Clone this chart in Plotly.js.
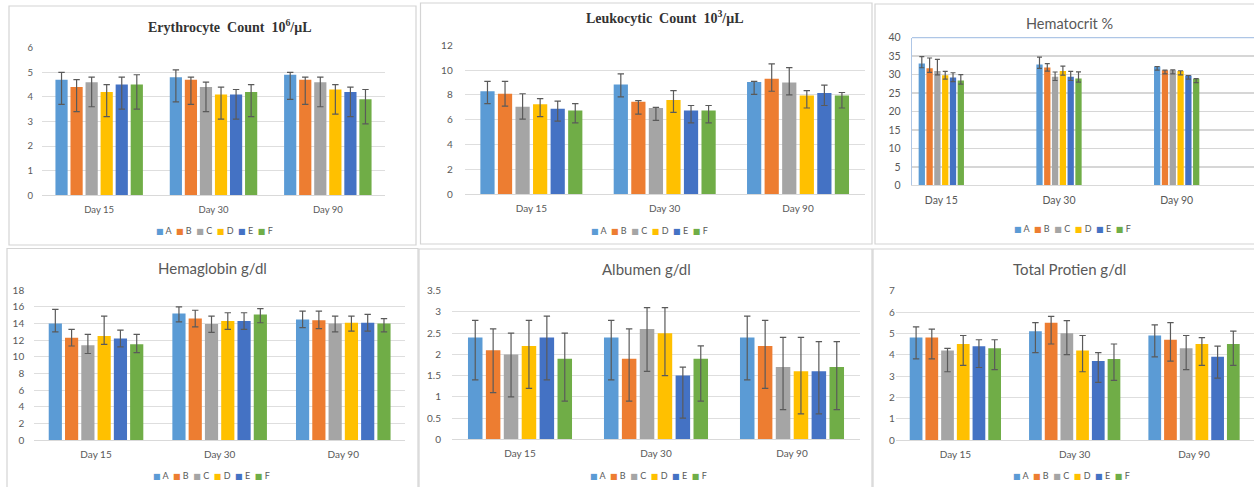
<!DOCTYPE html>
<html><head><meta charset="utf-8">
<script src="https://cdn.plot.ly/plotly-3.0.1.min.js"></script>
<style>html,body{margin:0;padding:0;background:#fff;overflow:hidden}#chart{width:1254px;height:487px}</style>
</head><body><div id="chart"></div>
<script>
// ---------- data ----------
const days = ['Day 15', 'Day 30', 'Day 90'];
const groups = ['A', 'B', 'C', 'D', 'E', 'F'];
const colors = ['#5B9BD5', '#ED7D31', '#A5A5A5', '#FFC000', '#4472C4', '#70AD47'];

// rows = groups A..F, columns = Day 15, Day 30, Day 90
const eryVal   = [[4.7,4.8,4.9],[4.4,4.7,4.7],[4.6,4.4,4.6],[4.2,4.1,4.3],[4.5,4.1,4.2],[4.5,4.2,3.9]];
const eryPlus  = [[0.3,0.3,0.1],[0.3,0.1,0.1],[0.2,0.2,0.2],[0.3,0.3,0.2],[0.3,0.2,0.2],[0.4,0.3,0.4]];
const eryMinus = [[1,1,1],[1,1,1],[1,1,1],[1,1,1],[1,1,1],[1,1,1]];

const leuVal   = [[8.3,8.85,9.05],[8.1,7.45,9.3],[7.05,6.95,9.0],[7.25,7.6,7.95],[6.9,6.75,8.15],[6.75,6.75,7.95]];
const leuPlus  = [[0.8,0.85,0.05],[1.0,0.1,1.2],[1.05,0.05,1.2],[0.45,0.75,0.4],[0.6,0.4,0.65],[0.55,0.4,0.25]];
const leuMinus = [[1,1,1],[1,1,1],[1,1,1],[1,1,1],[1,1,1],[1,1,1]];

const hctVal   = [[33.0,32.75,32.2],[31.7,31.95,31.2],[31.0,29.4,31.2],[29.85,30.95,30.95],[29.2,29.4,29.75],[28.4,28.95,28.85]];
const hctPlus  = [[1.85,2.0,0],[2.8,1.05,0],[3.1,1.3,0.1],[1.05,1.35,0.1],[1.3,1.45,0],[1.6,1.8,0.05]];
const hctMinus = [[1.15,1.05,1.0],[1.1,1.0,1.0],[1.05,1.0,1.0],[1.1,1.1,1.0],[1.1,1.0,1.0],[1.0,1.0,1.0]];

const hgbVal   = [[14.0,15.2,14.5],[12.3,14.6,14.4],[11.4,13.95,14.0],[12.5,14.3,14.1],[12.2,14.3,14.1],[11.5,15.1,14.0]];
const hgbPlus  = [[1.7,0.8,1.0],[1.0,1.0,1.1],[1.3,0.95,0.9],[2.4,1.0,0.8],[1.0,1.0,1.0],[1.2,0.7,0.6]];
const hgbMinus = [[1,1,1],[1,1,1],[1,1,1],[1,1,1],[1,1,1],[1,1,1]];

const albVal   = [[2.4,2.4,2.4],[2.1,1.9,2.2],[2.0,2.6,1.7],[2.2,2.5,1.6],[2.4,1.5,1.6],[1.9,1.9,1.7]];
const albPlus  = [[0.4,0.4,0.5],[0.5,0.7,0.6],[0.5,0.5,0.7],[0.6,0.6,0.8],[0.5,0.2,0.7],[0.6,0.3,0.6]];
const albMinus = [[1,1,1],[1,1,1],[1,1,1],[1,1,1],[1,1,1],[1,1,1]];

const tpVal    = [[4.8,5.1,4.9],[4.8,5.5,4.7],[4.2,5.0,4.3],[4.5,4.2,4.5],[4.4,3.7,3.9],[4.3,3.8,4.5]];
const tpPlus   = [[0.5,0.4,0.5],[0.4,0.3,0.8],[0.1,0.6,0.6],[0.4,0.7,0.3],[0.3,0.4,0.5],[0.4,0.7,0.6]];
const tpMinus  = [[1,1,1],[1,1,1],[1,1,1],[1,1,1],[1,1,1],[1,1,1]];

// ---------- layout helpers ----------
const W = 1254, H = 487;
const px = x => x / W;
const py = y => 1 - y / H;
const GREY = '#595959';
const SANS = 'Lato, "Open Sans", sans-serif';
const SERIF = '"Liberation Serif", "Times New Roman", serif';

const panels = [
  {val: eryVal, plus: eryPlus, minus: eryMinus, ymax: 6, dtick: 1,
   plot: [42, 385, 47.7, 195.3], box: [9, 416, 6, 245],
   title: 'Erythrocyte\u00a0\u00a0Count\u00a0\u00a010<sup>6</sup>/μL', serif: true, tsize: 14, tpos: [229, 26],
   legpos: [215, 230], ystand: 8, tickSize: 9.5},
  {val: leuVal, plus: leuPlus, minus: leuMinus, ymax: 12, dtick: 2,
   plot: [464.7, 864.7, 45.3, 194.3], box: [420.5, 872, 3, 244],
   title: 'Leukocytic\u00a0\u00a0Count\u00a0\u00a010<sup>3</sup>/μL', serif: true, tsize: 14, tpos: [664.5, 16.7],
   legpos: [649, 230], ystand: 11, tickSize: 10},
  {val: hctVal, plus: hctPlus, minus: hctMinus, ymax: 40, dtick: 5,
   plot: [912, 1254, 37.7, 185.3], box: [875, 1262, 4, 244], xrange: [-0.249, 2.657], narrow: true,
   title: 'Hematocrit %', serif: false, tsize: 14.5, tpos: [1069.7, 24],
   legpos: [1072, 228.7], ystand: 8, tickSize: 10.5},
  {val: hgbVal, plus: hgbPlus, minus: hgbMinus, ymax: 18, dtick: 2,
   plot: [34.2, 405.1, 290.3, 440], box: [7, 418, 248.5, 492],
   title: 'Hemaglobin g/dl', serif: false, tsize: 15, tpos: [212.5, 268.3],
   legpos: [211.7, 475], ystand: 9, tickSize: 10},
  {val: albVal, plus: albPlus, minus: albMinus, ymax: 3.5, dtick: 0.5,
   plot: [452, 860, 290.7, 439.3], box: [419, 872, 249, 492],
   title: 'Albumen g/dl', serif: false, tsize: 15, tpos: [646.3, 269],
   legpos: [648.3, 475], ystand: 10, tickSize: 10},
  {val: tpVal, plus: tpPlus, minus: tpMinus, ymax: 7, dtick: 1,
   plot: [895.7, 1253.7, 290.7, 440], box: [873, 1262, 249, 492],
   title: 'Total Protien g/dl', serif: false, tsize: 15, tpos: [1069, 269],
   legpos: [1071.3, 475], ystand: 7.5, tickSize: 10}
];

const traces = [];
const layout = {
  width: W, height: H,
  margin: {l: 0, r: 0, t: 0, b: 0},
  paper_bgcolor: '#ffffff', plot_bgcolor: '#ffffff',
  showlegend: false,
  barmode: 'group', bargap: 0.21, bargroupgap: 0.19,
  font: {family: SANS, color: GREY},
  shapes: [], annotations: []
};

// narrow-group geometry for the hematocrit panel (in category units)
const NSLOT = 0.0663, NBAR = 0.0535;

panels.forEach((p, k) => {
  const s = k === 0 ? '' : String(k + 1);
  const [x0, x1, yTop, yBot] = p.plot;
  layout['xaxis' + s] = {
    domain: [px(x0), px(x1)], anchor: 'y' + s, type: 'category',
    showgrid: false, showline: true, linecolor: '#d9d9d9', linewidth: 1,
    ticks: '', tickfont: {family: SANS, size: p.tickSize, color: GREY},
    ticklabelstandoff: 5, fixedrange: true,
    range: p.xrange ? p.xrange : [-0.5, 2.5]
  };
  layout['yaxis' + s] = {
    domain: [py(yBot), py(yTop)], anchor: 'x' + s,
    range: [0, p.ymax], dtick: p.dtick, tick0: 0,
    showgrid: true, gridcolor: p.narrow ? '#d6d6d6' : '#dedede', gridwidth: p.narrow ? 1.6 : 1,
    zeroline: false, showline: !!p.narrow, linecolor: '#aec6e6', linewidth: 1.3,
    ticks: '', tickfont: {family: SANS, size: p.tickSize, color: GREY},
    ticklabelstandoff: p.ystand, fixedrange: true
  };
  if (p.narrow) {
    layout.shapes.push({type: 'line', xref: 'x' + s + ' domain', yref: 'y' + s + ' domain',
      x0: 0, x1: 1, y0: 1, y1: 1, line: {color: '#aec6e6', width: 1.3}, layer: 'above'});
  }
  groups.forEach((g, i) => {
    const t = {
      type: 'bar', name: g, x: days, y: p.val[i],
      xaxis: 'x' + s, yaxis: 'y' + s,
      marker: {color: colors[i], line: {width: 0}},
      error_y: {type: 'data', symmetric: false, array: p.plus[i], arrayminus: p.minus[i],
        color: '#5a5a5a', thickness: 1.2, width: p.narrow ? 2.5 : 3.2},
      hoverinfo: 'skip'
    };
    if (p.narrow) {
      t.width = NBAR;
      t.offset = -3 * NSLOT + i * NSLOT + (NSLOT - NBAR) / 2;
    }
    traces.push(t);
  });
  // panel frame
  const [bx0, bx1, by0, by1] = p.box;
  layout.shapes.push({type: 'rect', xref: 'paper', yref: 'paper',
    x0: px(bx0), x1: px(bx1), y0: py(by1), y1: py(by0),
    line: {color: '#d4d4d4', width: 1.2}, fillcolor: 'rgba(0,0,0,0)', layer: 'below'});
  // title
  layout.annotations.push({xref: 'paper', yref: 'paper', x: px(p.tpos[0]), y: py(p.tpos[1]),
    xanchor: 'center', yanchor: 'middle', showarrow: false, text: p.serif ? '<b>' + p.title + '</b>' : p.title,
    font: {family: p.serif ? SERIF : SANS, size: p.tsize, color: p.serif ? '#333333' : GREY}});
  // compact legend
  const legText = groups.map((g, i) =>
    '<span style="color:' + colors[i] + ';font-family:DejaVu Sans;font-size:8px">■</span>\u00a0' + g).join('\u00a0\u00a0');
  layout.annotations.push({xref: 'paper', yref: 'paper', x: px(p.legpos[0]), y: py(p.legpos[1]),
    xanchor: 'center', yanchor: 'middle', showarrow: false, text: legText,
    font: {family: SANS, size: 9, color: GREY}});
});

Plotly.newPlot('chart', traces, layout, {staticPlot: true, displayModeBar: false});
</script>
</body></html>
